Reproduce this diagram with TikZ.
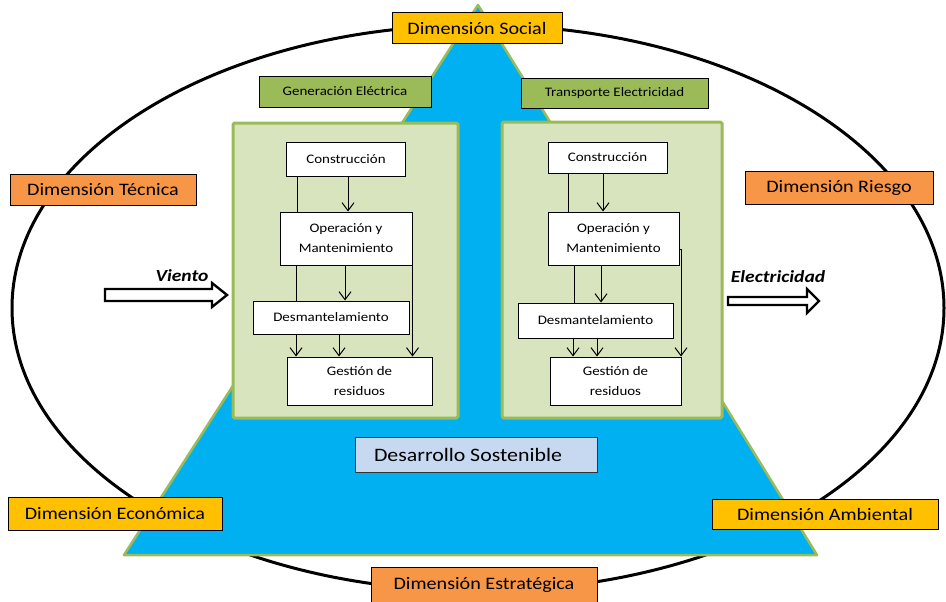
\documentclass[tikz,border=0pt]{standalone}
\usepackage{fontspec}
\setmainfont{Carlito}[FakeStretch=1.15]
\usetikzlibrary{arrows.meta,calc}
\definecolor{gold}{HTML}{FFC000}
\definecolor{orng}{HTML}{F79646}
\definecolor{olive}{HTML}{9BBB59}
\definecolor{panelfill}{HTML}{D7E4BD}
\definecolor{cyanfill}{HTML}{00B0F0}
\definecolor{lblue}{HTML}{C6D9F1}
\begin{document}
\begin{tikzpicture}[x=1pt,y=-1pt,
  dim/.style={draw=black, line width=0.9pt, inner sep=0pt, font=\fontsize{17.5}{20}\selectfont},
  hdr/.style={draw=black, line width=0.9pt, fill=olive, inner sep=0pt, font=\fontsize{13}{15}\selectfont},
  panel/.style={draw=olive, line width=3pt, fill=panelfill, rounded corners=1.5pt},
  step box/.style={draw=black, line width=1pt, fill=white, inner sep=0pt, align=center, font=\fontsize{13}{20}\selectfont},
  arr/.style={line width=1pt, -{Straight Barb[length=8pt,width=12pt]}},
  ln/.style={line width=1pt},
  flow/.style={draw=black, line width=2.4pt, fill=white, line join=miter},
  flowlbl/.style={font=\fontsize{17}{20}\selectfont\bfseries\itshape, inner sep=0pt}
]
\useasboundingbox (0,0) rectangle (946,602);

% ellipse
\draw[line width=3pt] (478,308) ellipse [x radius=466, y radius=283];

% triangle
\fill[cyanfill] (478,5) -- (124,555) -- (817,555) -- cycle;
\draw[olive, line width=2.5pt, line join=round] (478,5) -- (124,555) -- (817,555) -- cycle;

% panels
\draw[panel] (233,123) rectangle (458,418);
\draw[panel] (502,122) rectangle (722,418);

% header labels
\node[hdr, minimum width=172, minimum height=31] (gen) at (345,91.5) {Generación Eléctrica};
\node[hdr, minimum width=187, minimum height=30] (tra) at (614.5,93) {Transporte Electricidad};

% left panel boxes
\node[step box, minimum width=119, minimum height=34] (c1) at (346,159) {Construcción};
\node[step box, minimum width=132, minimum height=53] (o1) at (346,238.5) {Operación y\\Mantenimiento};
\node[step box, minimum width=156, minimum height=33] (d1) at (331,317.5) {Desmantelamiento};
\node[step box, minimum width=145, minimum height=48] (g1) at (359.5,381) {Gestión de\\residuos};

\draw[ln] (c1.south -| 297,0) -- (o1.north -| 297,0);
\draw[arr] (c1.south -| 348,0) -- (o1.north -| 348,0);
\draw[ln] (o1.south -| 296,0) -- (d1.north -| 296,0);
\draw[arr] (o1.south -| 345,0) -- (d1.north -| 345,0);
\draw[arr] (o1.east |- 0,247) -- (g1.north -| o1.east);
\draw[arr] (d1.south -| 296,0) -- (g1.north -| 296,0);
\draw[arr] (d1.south -| 339,0) -- (g1.north -| 339,0);

% right panel boxes
\node[step box, minimum width=119, minimum height=31] (c2) at (607.5,157.5) {Construcción};
\node[step box, minimum width=131, minimum height=53] (o2) at (613.5,238.5) {Operación y\\Mantenimiento};
\node[step box, minimum width=155, minimum height=35] (d2) at (595.5,320.5) {Desmantelamiento};
\node[step box, minimum width=131, minimum height=48] (g2) at (615.5,381) {Gestión de\\residuos};

\draw[ln] (c2.south -| 568,0) -- (o2.north -| 568,0);
\draw[arr] (c2.south -| 603,0) -- (o2.north -| 603,0);
\draw[ln] (o2.south -| 574,0) -- (d2.north -| 574,0);
\draw[arr] (o2.south -| 601,0) -- (d2.north -| 601,0);
\draw[ln] (o2.east |- 0,249) -- (681,249);
\draw[arr] (681,249) -- (g2.north -| 681,0);
\draw[arr] (d2.south -| 573,0) -- (g2.north -| 573,0);
\draw[arr] (d2.south -| 597,0) -- (g2.north -| 597,0);

% central label
\node[draw=black!80, line width=0.8pt, fill=lblue, inner sep=0pt, minimum width=242, minimum height=35,
      font=\fontsize{19}{22}\selectfont] (ds) at (476,454.5) {Desarrollo Sostenible\hspace*{16pt}};

% dimension labels
\node[dim, fill=gold, minimum width=170, minimum height=31] (soc) at (477,28) {Dimensión Social};
\node[dim, fill=orng, minimum width=186, minimum height=31] (tec) at (103,189.5) {Dimensión Técnica};
\node[dim, fill=orng, minimum width=188, minimum height=33] (rie) at (839,187.5) {Dimensión Riesgo};
\node[dim, fill=gold, minimum width=214, minimum height=33] (eco) at (115,513.5) {Dimensión Económica};
\node[dim, fill=gold, minimum width=226, minimum height=30] (amb) at (825,514) {Dimensión Ambiental};
\node[dim, fill=orng, minimum width=226, minimum height=36] (est) at (484,585) {Dimensión Estratégica};

% input / output flows
\draw[flow] (105,289) -- (212,289) -- (212,283) -- (227,295) -- (212,307) -- (212,301) -- (105,301) -- cycle;
\node[flowlbl] (vie) at (182,276) {Viento};
\draw[flow] (728,297) -- (807,297) -- (807,289) -- (819,301) -- (807,313) -- (807,305) -- (728,305) -- cycle;
\node[flowlbl] (ele) at (778,277) {Electricidad};
\end{tikzpicture}
\end{document}
